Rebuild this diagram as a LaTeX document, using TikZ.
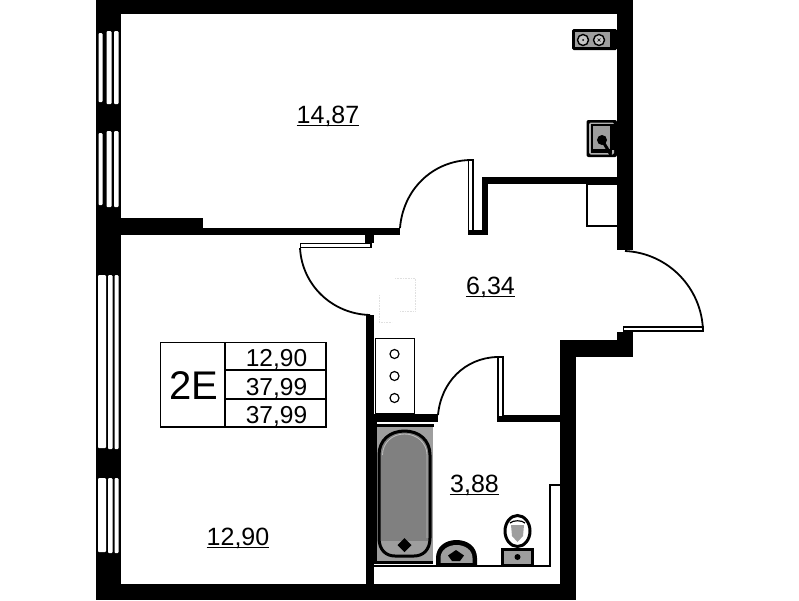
\documentclass[tikz,border=0pt]{standalone}
\usepackage{fontspec}
\setmainfont{Liberation Sans}
\begin{document}
\begin{tikzpicture}[x=1pt,y=-1pt,
  wall/.style={fill=black,draw=none},
  glass/.style={fill=white,draw=none,rounded corners=1pt},
  thin line/.style={draw=black,line width=1.5pt,fill=none},
  arcline/.style={draw=black,line width=1.8pt,fill=none},
  leaf/.style={draw=black,fill=white,line width=1.7pt},
  room/.style={anchor=base,inner sep=0pt,font=\fontsize{25}{25}\selectfont},
  cell/.style={anchor=base,inner sep=0pt,font=\fontsize{24.5}{25}\selectfont},
  under/.style={draw=black,line width=1.2pt}]
\definecolor{graytone}{gray}{0.62}
\definecolor{darktone}{gray}{0.5}
\def\tubpath{(379,455) .. controls (379,440) and (390,431) .. (404.5,431)
  .. controls (419,431) and (430,440) .. (430,455) -- (430,538)
  .. controls (430,550) and (423,556) .. (414,556) -- (395,556)
  .. controls (386,556) and (379,550) .. (379,538) -- cycle}
\useasboundingbox (0,0) rectangle (799,600);
\fill[white] (0,0) rectangle (799,600);
% outer and inner walls
\fill[wall] (96,0) rectangle (633,14);
\fill[wall] (96,0) rectangle (121,600);
\fill[wall] (96,584) rectangle (576,600);
\fill[wall] (617,0) rectangle (633,250);
\fill[wall] (121,218) rectangle (203,235);
\fill[wall] (121,228) rectangle (400,235);
\fill[wall] (365,228) rectangle (374,243);
\fill[wall] (366,315) rectangle (374,590);
\fill[wall] (482,177) rectangle (617,184);
\fill[wall] (482,177) rectangle (488,235);
\fill[wall] (468,230) rectangle (488,235);
\fill[wall] (617,332) rectangle (633,357);
\fill[wall] (560,340) rectangle (633,357);
\fill[wall] (560,340) rectangle (576,600);
\fill[wall] (374,414) rectangle (438,422);
\fill[wall] (497,415) rectangle (560,422);
% windows
\foreach \a/\b in {30/103,130/206}{
  \fill[glass] (98.5,\a+3) rectangle (102.5,\b-1);
  \fill[glass] (106.5,\a+1) rectangle (111.5,\b+1);
  \fill[glass] (114,\a+1) rectangle (118.5,\b+1);
}
\foreach \a/\b in {275/449,478/553}{
  \fill[glass] (98,\a) rectangle (106,\b-1);
  \fill[glass] (108,\a) rectangle (112.5,\b);
  \fill[glass] (114.5,\a) rectangle (118.5,\b);
}
% doors
\draw[leaf] (300.5,243.5) rectangle (371,247.5);
\draw[arcline] (300,248) .. controls (302,285) and (332,314) .. (370,315);
\draw[leaf] (468.5,160) rectangle (473,231);
\draw[arcline] (400,228) .. controls (403,190) and (432,161) .. (470,160);
\draw[leaf] (623.5,327) rectangle (703,331);
\draw[arcline] (625,251) .. controls (668,253) and (702,288) .. (703,331);
\draw[black,fill=white,line width=2pt] (498,357) rectangle (502.5,417);
\draw[arcline] (438,415) .. controls (441,382) and (465,358) .. (497,357);
% closet
\draw[draw=black,line width=1pt] (375,338) rectangle (414,413);
\foreach \yy in {354,376,398}{\draw[black,line width=1.2pt] (394.5,\yy) circle (4.5);}
% box under partition
\draw[thin line] (617,184) -- (587,184) -- (587,226) -- (617,226);
% faint ghost in the hall
\draw[black!12,line width=.6pt,densely dotted] (379,295) -- (379,322) -- (392,322);
\draw[black!12,line width=.6pt,densely dotted] (395,278) -- (415,278) -- (415,311) -- (400,311);
% kitchen
\fill[black,rounded corners=1.5pt] (572,29) rectangle (617,50);
\fill[graytone] (575,32) rectangle (610,47);
\foreach \xx in {583,599}{\draw[black,fill=graytone!60,line width=1.4pt] (\xx,40) circle (5.5);}
\fill[black] (583,40) circle (1);
\draw[black,line width=.6pt] (597.5,38.5) -- (600.5,41.5) (597.5,41.5) -- (600.5,38.5);
\fill[black,rounded corners=2pt] (586.5,120) rectangle (617,157);
\fill[white!70!black,rounded corners=1.5pt] (589,122.5) rectangle (614,154.5);
\fill[black] (591,124) rectangle (612,152.5);
\fill[graytone] (593,125.5) rectangle (610,149);
\fill[black] (612,124) rectangle (617,150);
\fill[black] (602,140) circle (5);
\draw[black,line width=3pt] (602,140) -- (611,155);
% plumbing line
\draw[black,line width=2pt] (374,566) -- (549.5,566) -- (549.5,485) -- (560,485);
% bath
\fill[white] (374,422) rectangle (438,424);
\fill[black] (374,424) rectangle (434,426.5);
\fill[black] (374,422) rectangle (377,564);
\fill[graytone] (377,426.5) rectangle (433,561);
\fill[black] (377,561) rectangle (433,564);
\fill[darktone] \tubpath;
\begin{scope}
  \clip \tubpath;
  \fill[graytone] (379,541) rectangle (430,556);
\end{scope}
\draw[white!75!black,line width=.8pt] (382.5,455) .. controls (382.5,443) and (392,434) .. (404.5,434)
  .. controls (417,434) and (427,443) .. (427,455) -- (427,538);
\draw[black,line width=3pt] \tubpath;
\fill[black] (404.5,538) -- (411.5,545) -- (404.5,552) -- (397.5,545) -- cycle;
% basin
\fill[black] (436,566) -- (436,558) .. controls (436,547) and (445,540) .. (456.5,540) .. controls (468,540) and (477,547) .. (477,558) -- (477,566) -- cycle;
\fill[graytone] (440.5,563) -- (440.5,558) .. controls (440.5,550) and (448,545) .. (456.5,545) .. controls (465,545) and (472.5,550) .. (472.5,558) -- (472.5,563) -- cycle;
\fill[black] (456,550) -- (464,555.5) -- (460,561) -- (452,561) -- (448,555.5) -- cycle;
\fill[black] (436,563) rectangle (477,566);
% toilet
\draw[black,fill=white,line width=3pt] (517.5,531) ellipse (12.5 and 15.5);
\fill[graytone] (511,525) -- (524,525) -- (523,536) -- (517.5,542) -- (512,536) -- cycle;
\draw[black,line width=1.2pt] (510,523) .. controls (513,520) and (522,520) .. (525,523);
\draw[black,fill=graytone,line width=2.6pt] (502.5,549.5) rectangle (532.5,565);
\fill[black] (517.5,557) circle (3);
% legend table
\draw[black,line width=1.6pt] (160.5,342.5) rectangle (326,427);
\draw[black,line width=1.2pt] (225,342.5) -- (225,427);
\draw[black,line width=1.2pt] (225,370) -- (326,370);
\draw[black,line width=1.2pt] (225,399) -- (326,399);
\node[anchor=base,inner sep=0pt,font=\fontsize{40}{40}\selectfont] (type) at (194,399) {2E};
\node[cell] (c1) at (276.5,366.5) {12,90};
\node[cell] (c2) at (276.5,395) {37,99};
\node[cell] (c3) at (276.5,423.5) {37,99};
% room labels
\node[room] (r1) at (328,123.5) {14,87};
\draw[under] ([yshift=-2pt]r1.base west) -- ([yshift=-2pt]r1.base east);
\node[room] (r2) at (490.5,294.5) {6,34};
\draw[under] ([yshift=-2pt]r2.base west) -- ([yshift=-2pt]r2.base east);
\node[room] (r3) at (474.5,492.5) {3,88};
\draw[under] ([yshift=-2pt]r3.base west) -- ([yshift=-2pt]r3.base east);
\node[room] (r4) at (238,545.5) {12,90};
\draw[under] ([yshift=-2pt]r4.base west) -- ([yshift=-2pt]r4.base east);
\end{tikzpicture}
\end{document}
